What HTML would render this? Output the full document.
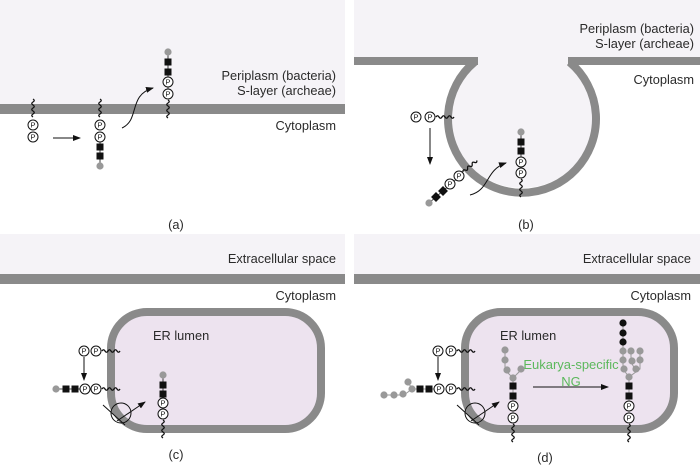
<!DOCTYPE html>
<html><head><meta charset="utf-8"><style>
html,body{margin:0;padding:0;background:#fff}
svg{display:block}
text{font-family:"Liberation Sans",Arial,sans-serif;font-size:12.8px;fill:#2a2a2a}
</style></head><body>
<svg width="700" height="468" viewBox="0 0 700 468" xmlns="http://www.w3.org/2000/svg">
<defs>
<marker id="ah" markerWidth="8" markerHeight="8" refX="7" refY="4" orient="auto" markerUnits="userSpaceOnUse"><path d="M0,1 L8,4 L0,7 Z" fill="#111"/></marker>
<g id="P"><circle r="5" fill="#fff" stroke="#111" stroke-width="1"/><text x="0" y="2.7" text-anchor="middle" style="font-size:7.5px;fill:#111">P</text></g>
<path id="wv" d="M0,0 q1.5,-2.5 3,0 t3,0 t3,0 t3,0 t3,0 t3,0" fill="none" stroke="#111" stroke-width="1.3"/>
<rect id="sq" x="-3.5" y="-3.5" width="7" height="7" fill="#111"/>
<circle id="gd" r="3.6" fill="#999"/>
<circle id="bd" r="3.6" fill="#111"/>
</defs>

<!-- Panel a -->
<rect x="0" y="0" width="345" height="104" fill="#f5f3f7"/>
<rect x="0" y="104" width="345" height="10" fill="#8a8a8a"/>
<text x="336" y="80" text-anchor="end">Periplasm (bacteria)</text>
<text x="336" y="95" text-anchor="end">S-layer (archeae)</text>
<text x="336" y="130" text-anchor="end">Cytoplasm</text>
<text x="176" y="229" text-anchor="middle">(a)</text>
<use href="#wv" transform="translate(33,99) rotate(90)"/>
<use href="#P" x="33" y="125"/><use href="#P" x="33" y="137"/>
<line x1="53" y1="138" x2="80" y2="138" stroke="#111" stroke-width="1" marker-end="url(#ah)"/>
<use href="#wv" transform="translate(100,99) rotate(90)"/>
<line x1="100" y1="140" x2="100" y2="166" stroke="#111" stroke-width="0.8"/>
<use href="#P" x="100" y="125"/><use href="#P" x="100" y="137"/>
<use href="#sq" x="100" y="147"/><use href="#sq" x="100" y="156"/><use href="#gd" x="100" y="166"/>
<path d="M122,128 C140,120 128,95 153,88" fill="none" stroke="#111" stroke-width="1" marker-end="url(#ah)"/>
<line x1="168" y1="52" x2="168" y2="90" stroke="#111" stroke-width="0.8"/>
<use href="#gd" x="168" y="52"/><use href="#sq" x="168" y="62"/><use href="#sq" x="168" y="72"/>
<use href="#P" x="168" y="82"/><use href="#P" x="168" y="94"/>
<use href="#wv" transform="translate(168,100) rotate(90)"/>

<!-- Panel b -->
<rect x="354" y="0" width="346" height="57" fill="#f5f3f7"/>
<circle cx="522" cy="114" r="74" fill="#f5f3f7"/>
<rect x="354" y="57" width="124" height="8" fill="#8a8a8a"/>
<rect x="568" y="57" width="132" height="8" fill="#8a8a8a"/>
<path d="M474.5,62 A74,74 0 1 0 569.5,62" fill="none" stroke="#8a8a8a" stroke-width="8"/>
<text x="694" y="33" text-anchor="end">Periplasm (bacteria)</text>
<text x="694" y="48" text-anchor="end">S-layer (archeae)</text>
<text x="694" y="84" text-anchor="end">Cytoplasm</text>
<text x="526" y="229" text-anchor="middle">(b)</text>
<use href="#P" x="416" y="117"/><use href="#P" x="430" y="117"/>
<use href="#wv" transform="translate(436,117)"/>
<line x1="430" y1="128" x2="430" y2="164" stroke="#111" stroke-width="1" marker-end="url(#ah)"/>
<line x1="429" y1="203" x2="459" y2="177" stroke="#111" stroke-width="0.8"/>
<use href="#gd" x="429" y="203"/>
<use href="#sq" transform="translate(436,197) rotate(45)"/><use href="#sq" transform="translate(443,191) rotate(45)"/>
<use href="#P" x="450" y="184"/><use href="#P" x="459" y="176"/>
<use href="#wv" transform="translate(463,172) rotate(-40)"/>
<path d="M470,195 C490,190 485,170 506,163" fill="none" stroke="#111" stroke-width="1" marker-end="url(#ah)"/>
<line x1="521" y1="132" x2="521" y2="170" stroke="#111" stroke-width="0.8"/>
<use href="#gd" x="521" y="132"/><use href="#sq" x="521" y="142"/><use href="#sq" x="521" y="151"/>
<use href="#P" x="521" y="162"/><use href="#P" x="521" y="173"/>
<use href="#wv" transform="translate(521,179) rotate(90)"/>

<!-- Panel c -->
<rect x="0" y="234" width="345" height="40" fill="#f5f3f7"/>
<rect x="0" y="274" width="345" height="10" fill="#8a8a8a"/>
<text x="336" y="263" text-anchor="end">Extracellular space</text>
<text x="336" y="300" text-anchor="end">Cytoplasm</text>
<rect x="111" y="312" width="210" height="117" rx="36" fill="#ede3ef" stroke="#8a8a8a" stroke-width="8"/>
<text x="153" y="340">ER lumen</text>
<text x="176" y="459" text-anchor="middle">(c)</text>
<use href="#P" x="84" y="351"/><use href="#P" x="96" y="351"/>
<use href="#wv" transform="translate(102,351)"/>
<line x1="84" y1="357" x2="84" y2="380" stroke="#111" stroke-width="1" marker-end="url(#ah)"/>
<line x1="56" y1="389" x2="84" y2="389" stroke="#111" stroke-width="0.8"/>
<use href="#gd" x="56" y="389"/><use href="#sq" x="66" y="389"/><use href="#sq" x="75" y="389"/>
<use href="#P" x="85" y="389"/><use href="#P" x="96" y="389"/>
<use href="#wv" transform="translate(102,389)"/>
<circle cx="121" cy="413" r="10" fill="none" stroke="#111" stroke-width="1"/>
<path d="M103,405 L125,425" fill="none" stroke="#111" stroke-width="1"/>
<line x1="117" y1="421" x2="145" y2="402" stroke="#111" stroke-width="1" marker-end="url(#ah)"/>
<line x1="163" y1="375" x2="163" y2="410" stroke="#111" stroke-width="0.8"/>
<use href="#gd" x="163" y="375"/><use href="#sq" x="163" y="385"/><use href="#sq" x="163" y="394"/>
<use href="#P" x="163" y="403"/><use href="#P" x="163" y="414"/>
<use href="#wv" transform="translate(163,420) rotate(90)"/>

<!-- Panel d -->
<rect x="354" y="234" width="346" height="40" fill="#f5f3f7"/>
<rect x="354" y="274" width="346" height="10" fill="#8a8a8a"/>
<text x="691" y="263" text-anchor="end">Extracellular space</text>
<text x="691" y="300" text-anchor="end">Cytoplasm</text>
<rect x="465" y="312" width="209" height="117" rx="36" fill="#ede3ef" stroke="#8a8a8a" stroke-width="8"/>
<text x="500" y="340">ER lumen</text>
<text x="545" y="462" text-anchor="middle">(d)</text>
<text x="571" y="369" text-anchor="middle" style="fill:#5cb85c;font-size:13px">Eukarya-specific</text>
<text x="571" y="386" text-anchor="middle" style="fill:#5cb85c;font-size:13px">NG</text>
<line x1="533" y1="387" x2="608" y2="387" stroke="#111" stroke-width="1" marker-end="url(#ah)"/>
<use href="#P" x="438" y="351"/><use href="#P" x="451" y="351"/>
<use href="#wv" transform="translate(457,351)"/>
<line x1="438" y1="357" x2="438" y2="380" stroke="#111" stroke-width="1" marker-end="url(#ah)"/>
<path d="M384,395 L404,395 L412,389 L438,389 M412,389 L408,382" fill="none" stroke="#999" stroke-width="1"/>
<use href="#gd" x="384" y="395"/><use href="#gd" x="394" y="395"/><use href="#gd" x="403" y="394"/>
<use href="#gd" x="408" y="382"/><use href="#gd" x="412" y="389"/>
<use href="#sq" x="420" y="389"/><use href="#sq" x="429" y="389"/>
<use href="#P" x="439" y="389"/><use href="#P" x="451" y="389"/>
<use href="#wv" transform="translate(457,389)"/>
<circle cx="475" cy="413" r="10" fill="none" stroke="#111" stroke-width="1"/>
<path d="M457,405 L479,425" fill="none" stroke="#111" stroke-width="1"/>
<line x1="471" y1="421" x2="499" y2="402" stroke="#111" stroke-width="1" marker-end="url(#ah)"/>
<path d="M505,350 L505,370 L513,378 L521,370 M513,378 L513,415" fill="none" stroke="#999" stroke-width="1"/>
<use href="#gd" x="505" y="350"/><use href="#gd" x="505" y="360"/><use href="#gd" x="507" y="370"/>
<use href="#gd" x="521" y="369"/><use href="#gd" x="513" y="378"/>
<use href="#sq" x="513" y="386"/><use href="#sq" x="513" y="396"/>
<use href="#P" x="513" y="406"/><use href="#P" x="513" y="418"/>
<use href="#wv" transform="translate(513,424) rotate(90)"/>
<path d="M623,323 L623,369 L629,377 L640,369 L640,351 M631,351 L631,362 L636,371 M629,377 L629,415" fill="none" stroke="#999" stroke-width="1"/>
<use href="#bd" x="623" y="323"/><use href="#bd" x="623" y="333"/><use href="#bd" x="623" y="342"/>
<use href="#gd" x="623" y="351"/><use href="#gd" x="623" y="360"/><use href="#gd" x="624" y="369"/>
<use href="#gd" x="631" y="351"/><use href="#gd" x="632" y="361"/>
<use href="#gd" x="640" y="351"/><use href="#gd" x="640" y="360"/><use href="#gd" x="636" y="369"/>
<use href="#gd" x="629" y="377"/>
<use href="#sq" x="629" y="386"/><use href="#sq" x="629" y="396"/>
<use href="#P" x="629" y="406"/><use href="#P" x="629" y="418"/>
<use href="#wv" transform="translate(629,424) rotate(90)"/>
</svg>
</body></html>
